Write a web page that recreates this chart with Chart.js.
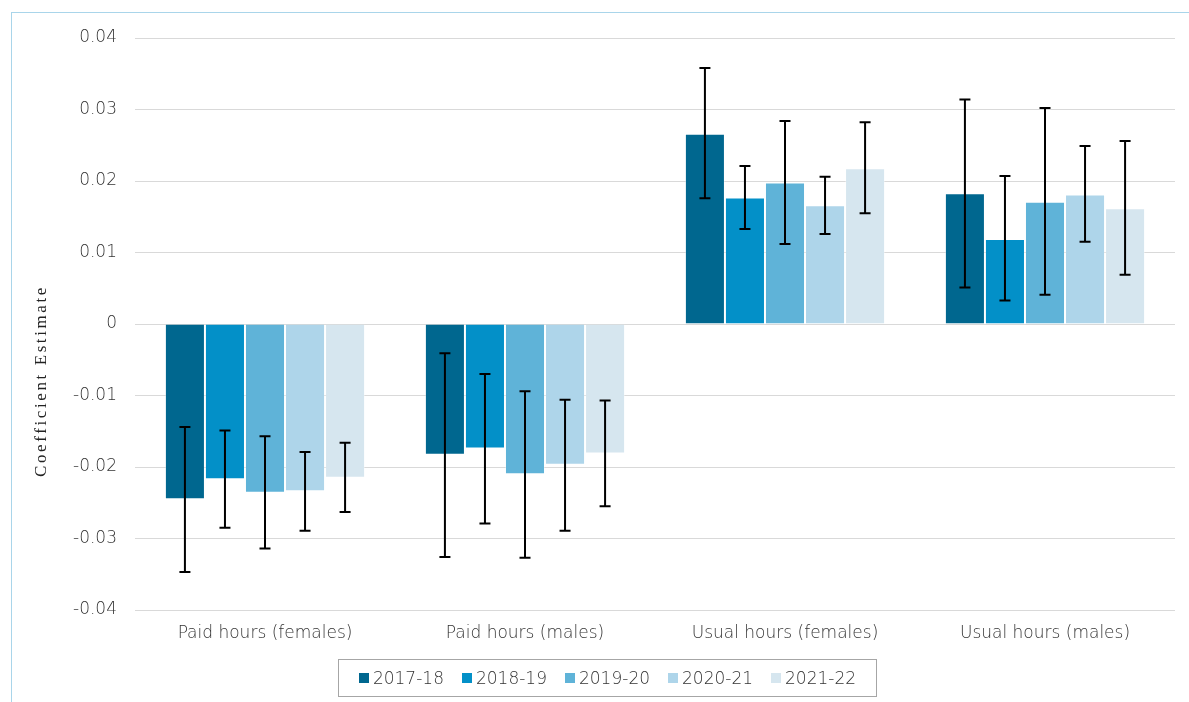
<!DOCTYPE html>
<html>
<head>
<meta charset="utf-8">
<script src="https://cdn.jsdelivr.net/npm/chart.js@4"></script>
<style>
  html, body { margin: 0; padding: 0; background: #fff; }
  #wrap { position: relative; width: 1189px; height: 702px; overflow: hidden; }
  #frame { position: absolute; left: 11px; top: 12px; width: 1200px; height: 720px;
           border-left: 1px solid #a9d5ea; border-top: 1px solid #a9d5ea; }
  canvas { position: absolute; left: 0; top: 0; }
  #legend { position: absolute; left: 338px; top: 659px; width: 537px; height: 36px;
            border: 1px solid #a6a6a6; display: flex; align-items: center; justify-content: center;
            font-family: "DejaVu Sans", sans-serif; font-weight: 200; font-size: 17px; color: #333; }
  .item { display: flex; align-items: center; margin: 0 9px; }
  .swatch { width: 10px; height: 10px; margin-right: 4px; }
</style>
</head>
<body>
<div id="wrap">
  <div id="frame"></div>
  <canvas id="chart" width="1189" height="702"></canvas>
  <div id="legend"></div>
</div>
<script>
// Categories and survey years
const categories = ['Paid hours (females)', 'Paid hours (males)', 'Usual hours (females)', 'Usual hours (males)'];
const years = ['2017-18', '2018-19', '2019-20', '2020-21', '2021-22'];
const yearColors = ['#00678f', '#0390c8', '#5fb3d8', '#aed5ea', '#d6e6ef'];

// Coefficient estimates per year (one value per category)
const est_2017_18 = [-0.0245, -0.0183, 0.0266, 0.0183];
const est_2018_19 = [-0.0217, -0.0174, 0.0177, 0.0119];
const est_2019_20 = [-0.0236, -0.0210, 0.0198, 0.0171];
const est_2020_21 = [-0.0234, -0.0197, 0.0166, 0.0181];
const est_2021_22 = [-0.0215, -0.0181, 0.0218, 0.0162];

// Confidence interval bounds
const lo_2017_18 = [-0.0347, -0.0326, 0.0176, 0.0051];
const hi_2017_18 = [-0.0144, -0.0041, 0.0358, 0.0314];
const lo_2018_19 = [-0.0285, -0.0279, 0.0133, 0.0033];
const hi_2018_19 = [-0.0149, -0.0070, 0.0221, 0.0207];
const lo_2019_20 = [-0.0314, -0.0327, 0.0112, 0.0041];
const hi_2019_20 = [-0.0157, -0.0094, 0.0284, 0.0302];
const lo_2020_21 = [-0.0289, -0.0289, 0.0126, 0.0115];
const hi_2020_21 = [-0.0179, -0.0106, 0.0206, 0.0249];
const lo_2021_22 = [-0.0263, -0.0255, 0.0155, 0.0069];
const hi_2021_22 = [-0.0166, -0.0107, 0.0282, 0.0256];

// Y-axis tick labels, from -0.04 up to 0.04
const yTickLabels = ['-0.04', '-0.03', '-0.02', '-0.01', '0', '0.01', '0.02', '0.03', '0.04'];
const yTitle = 'Coefficient Estimate';

const estimates = [est_2017_18, est_2018_19, est_2019_20, est_2020_21, est_2021_22];
const lows = [lo_2017_18, lo_2018_19, lo_2019_20, lo_2020_21, lo_2021_22];
const highs = [hi_2017_18, hi_2018_19, hi_2019_20, hi_2020_21, hi_2021_22];

const labelFont = { family: '"DejaVu Sans", sans-serif', size: 17, weight: 200 };

const datasets = years.map((y, i) => ({
  label: y,
  data: estimates[i],
  lows: lows[i],
  highs: highs[i],
  backgroundColor: yearColors[i],
  borderColor: 'rgba(255,255,255,0.35)',
  borderWidth: 1,
  barPercentage: 1.0,
  categoryPercentage: 0.77
}));

// Error bars drawn from each dataset's interval bounds
const errorBars = {
  id: 'errorBars',
  afterDatasetsDraw(chart) {
    const ctx = chart.ctx;
    const yScale = chart.scales.y;
    ctx.save();
    ctx.strokeStyle = '#000';
    ctx.lineWidth = 2;
    chart.data.datasets.forEach((ds, di) => {
      const meta = chart.getDatasetMeta(di);
      meta.data.forEach((bar, idx) => {
        const x = bar.x;
        const yLo = yScale.getPixelForValue(ds.lows[idx]);
        const yHi = yScale.getPixelForValue(ds.highs[idx]);
        const cap = 5.5;
        ctx.beginPath();
        ctx.moveTo(x, yLo); ctx.lineTo(x, yHi);
        ctx.moveTo(x - cap, yLo); ctx.lineTo(x + cap, yLo);
        ctx.moveTo(x - cap, yHi); ctx.lineTo(x + cap, yHi);
        ctx.stroke();
      });
    });
    ctx.restore();
  }
};

// Rotated serif y-axis title
const axisTitle = {
  id: 'axisTitle',
  afterDraw(chart) {
    const ctx = chart.ctx;
    ctx.save();
    ctx.translate(42, 381);
    ctx.rotate(-Math.PI / 2);
    ctx.font = '17px "Liberation Serif", "DejaVu Serif", serif';
    ctx.letterSpacing = '2.6px';
    ctx.fillStyle = '#222';
    ctx.textAlign = 'center';
    ctx.textBaseline = 'middle';
    ctx.fillText(yTitle, 0, 0);
    ctx.restore();
  }
};

const chart = new Chart(document.getElementById('chart'), {
  type: 'bar',
  data: { labels: categories, datasets },
  options: {
    responsive: false,
    animation: false,
    layout: { padding: { top: 38, right: 14, bottom: 52, left: 0 } },
    plugins: { legend: { display: false }, tooltip: { enabled: false } },
    scales: {
      x: {
        grid: { display: false, drawTicks: false },
        border: { display: false },
        ticks: { padding: 13, color: '#333', font: labelFont },
        afterFit(scale) { scale.height = 40; }
      },
      y: {
        min: -0.04,
        max: 0.04,
        grid: { color: '#d9d9d9', lineWidth: 1, drawTicks: false },
        border: { display: false },
        ticks: {
          stepSize: 0.01,
          padding: 18,
          color: '#333',
          font: labelFont,
          callback: (v, i) => yTickLabels[i]
        },
        afterFit(scale) { scale.width = 135; }
      }
    }
  },
  plugins: [errorBars, axisTitle]
});

// Legend built from the chart's datasets
const legendEl = document.getElementById('legend');
chart.data.datasets.forEach(ds => {
  const item = document.createElement('div');
  item.className = 'item';
  const sw = document.createElement('span');
  sw.className = 'swatch';
  sw.style.background = ds.backgroundColor;
  const tx = document.createElement('span');
  tx.textContent = ds.label;
  item.appendChild(sw);
  item.appendChild(tx);
  legendEl.appendChild(item);
});
</script>
</body>
</html>
